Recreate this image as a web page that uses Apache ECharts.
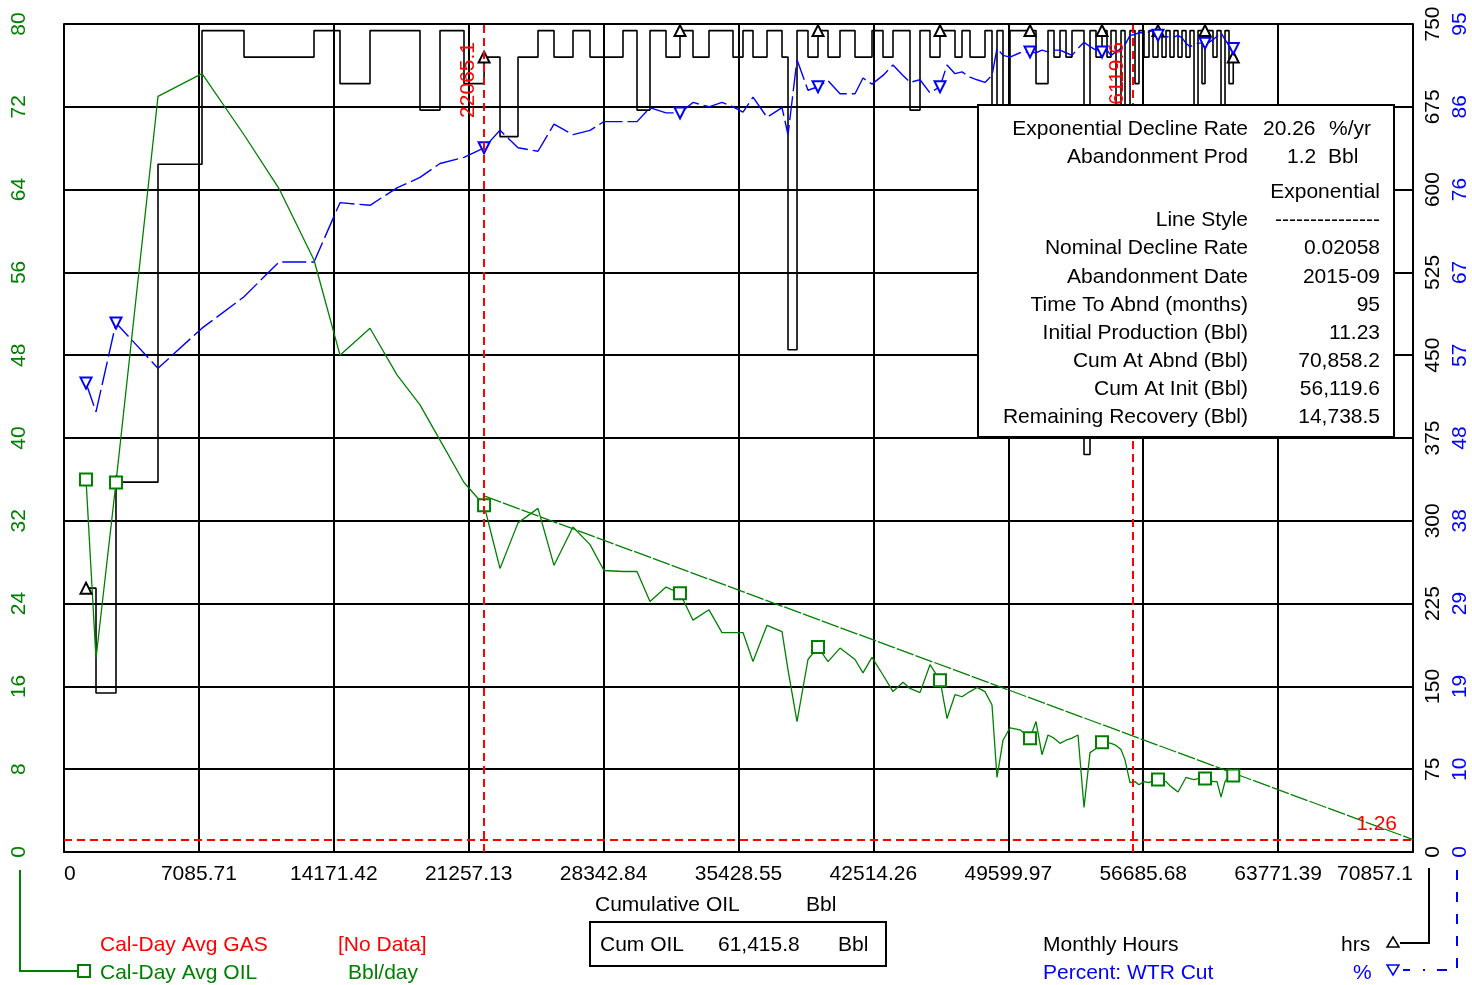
<!DOCTYPE html>
<html lang="en">
<head>
<meta charset="UTF-8">
<title>Cum OIL</title>
<style>
  html, body { margin: 0; padding: 0; background: #fff; }
  #chart { width: 1472px; height: 985px; }
</style>
</head>
<body>
<div id="chart"></div>
<script src="https://cdn.jsdelivr.net/npm/echarts@6.0.0/dist/echarts.min.js"></script>
<script>
// monthly points, x = cumulative oil (Bbl)
var cumOil = [1156, 1681, 2731, 4937, 7249, 9455, 11293, 13132, 14497, 16073,
  17491, 18699, 19750, 21010, 22065, 22901, 23847, 24897, 25738, 26736,
  27629, 28364, 29362, 30097, 30780, 31621, 32356, 33039, 33879, 34562,
  35140, 35665, 36190, 36926, 37714, 38029, 38502, 39079, 39605, 40130,
  40760, 41548, 41968, 42441, 43019, 43544, 44069, 44437, 44962, 45487,
  46013, 46380, 46801, 47168, 47589, 47956, 48376, 48744, 49007, 49322,
  49690, 50215, 50740, 51055, 51370, 51686, 52001, 52316, 52631, 52946,
  53261, 53577, 53892, 54207, 54522, 54785, 54995, 55257, 55520, 55730,
  55993, 56255, 56465, 56728, 56991, 57201, 57463, 57674, 57884, 58094,
  58304, 58514, 58724, 58934, 59145, 59355, 59565, 59775, 59932, 60142,
  60352, 60563, 60773, 60983, 61193, 61416];

// Cal-Day Avg OIL, Bbl/day
var oilRate = [36.0, 18.7, 35.7, 73.0, 75.2, 69.3, 64.1, 57.2, 48.0, 50.6,
  46.1, 43.2, 39.8, 35.7, 33.5, 27.4, 31.8, 33.2, 27.7, 31.4,
  29.7, 27.2, 27.1, 27.1, 24.2, 25.6, 25.0, 22.4, 23.4, 21.2,
  21.2, 21.2, 18.4, 21.9, 21.3, 17.6, 12.6, 18.6, 19.8, 18.4,
  19.7, 18.6, 17.3, 18.8, 17.1, 15.5, 16.4, 15.8, 15.4, 18.1,
  16.6, 12.9, 15.2, 15.0, 15.5, 15.9, 15.5, 14.2, 7.2, 10.8,
  12.0, 11.8, 11.0, 12.6, 9.4, 11.3, 11.0, 10.5, 10.8, 11.0,
  11.3, 4.3, 9.6, 10.0, 10.6, 10.6, 10.5, 10.3, 9.9, 8.9,
  6.7, 6.8, 6.5, 6.8, 6.7, 6.9, 7.0, 6.9, 6.8, 6.4,
  6.1, 5.8, 6.5, 7.2, 7.1, 7.0, 7.1, 7.1, 7.1, 7.0,
  6.8, 6.8, 5.3, 6.8, 7.3, 7.4];

// Monthly Hours, hrs
var monthHours = [239, 144, 335, 623, 744, 720, 720, 744, 696, 744,
  744, 672, 744, 696, 720, 648, 720, 744, 720, 744,
  720, 720, 744, 672, 744, 720, 744, 720, 744, 744,
  720, 744, 720, 744, 720, 455, 744, 720, 744, 720,
  744, 720, 720, 744, 720, 744, 744, 672, 744, 720,
  744, 744, 720, 744, 720, 720, 744, 400, 744, 400,
  744, 744, 744, 696, 696, 744, 720, 744, 720, 744,
  744, 360, 744, 720, 744, 720, 744, 672, 744, 420,
  744, 696, 744, 720, 744, 720, 744, 720, 744, 720,
  744, 720, 744, 720, 744, 420, 744, 696, 744, 744,
  720, 744, 420, 744, 696, 720];

// Percent: WTR Cut, %
var wtrCut = [53.8, 50.5, 60.7, 55.5, 60.1, 63.7, 67.7, 67.7, 74.5, 74.2,
  76.2, 77.4, 79.0, 79.7, 80.8, 82.8, 80.8, 80.4, 83.5, 82.3,
  82.8, 83.8, 83.8, 83.8, 85.4, 84.8, 84.8, 86.0, 85.5, 86.0,
  85.5, 84.9, 86.6, 84.3, 85.4, 82.3, 90.9, 87.4, 87.8, 88.5,
  87.0, 87.0, 88.8, 88.1, 89.1, 90.3, 89.1, 88.3, 88.6, 87.1,
  87.8, 90.3, 89.3, 89.5, 88.9, 88.6, 88.3, 89.1, 92.2, 91.4,
  91.2, 91.7, 91.8, 91.7, 92.0, 91.8, 92.0, 92.0, 91.7, 91.4,
  92.2, 92.9, 92.4, 92.0, 91.8, 92.0, 91.4, 91.8, 92.2, 92.6,
  93.7, 93.8, 94.0, 94.0, 94.1, 94.3, 93.7, 93.5, 93.5, 93.6,
  93.5, 93.7, 93.4, 92.8, 92.4, 92.6, 92.8, 92.8, 92.8, 92.9,
  93.2, 93.6, 94.0, 93.2, 92.6, 92.2];

// points that carry a symbol
var markIdx = [0, 2, 14, 26, 38, 50, 62, 74, 86, 98, 105];

// exponential decline fit
var declineCum = [22065.1, 70858.2];
var declineRate = [34.4, 1.2];
var fitCum = [22065.1, 56119.6];
var abandonRate = 1.2;
var abandonLabel = '1.26';

// axes
var xMax = 70857.1, xStep = 7085.71;
var rateMax = 80, rateStep = 8;
var hrsMax = 750, hrsStep = 75;
var cutMax = 95, cutStep = 9.5;

var statLabels = ['Exponential Decline Rate', 'Abandonment Prod', '', 'Line Style',
  'Nominal Decline Rate', 'Abandonment Date', 'Time To Abnd (months)',
  'Initial Production (Bbl)', 'Cum At Abnd (Bbl)', 'Cum At Init (Bbl)', 'Remaining Recovery (Bbl)'];
var statValues = ['', '', 'Exponential', '---------------', '0.02058', '2015-09', '95',
  '11.23', '70,858.2', '56,119.6', '14,738.5'];
var statRowY = [129, 157, 192, 220, 248, 277, 305, 333, 361, 389, 417];

var FONT = '"Liberation Sans", Arial, sans-serif';
var FS = 21;
var GREEN = '#008000', BLUE = '#0000ff', RED = '#ff0000';

function pairs(xs, ys) {
  return xs.map(function (x, i) { return [x, ys[i]]; });
}
function markSymbol(shape) {
  return function (val, p) { return markIdx.indexOf(p.dataIndex) >= 0 ? shape : 'none'; };
}
function txt(x, y, s, color, align) {
  return { type: 'text', z: 100, style: { x: x, y: y, text: s, fill: color || '#000',
    font: FS + 'px ' + FONT, align: align || 'left', verticalAlign: 'middle' } };
}

var graphics = [];
// stats box
graphics.push({ type: 'rect', z: 99, shape: { x: 978, y: 105, width: 416, height: 332 },
  style: { fill: '#fff', stroke: '#000', lineWidth: 2 } });
for (var i = 0; i < statLabels.length; i++) {
  if (statLabels[i]) graphics.push(txt(1248, statRowY[i], statLabels[i], '#000', 'right'));
  if (statValues[i]) graphics.push(txt(1380, statRowY[i], statValues[i], '#000', 'right'));
}
graphics.push(txt(1263, statRowY[0], '20.26'), txt(1329, statRowY[0], '%/yr'));
graphics.push(txt(1287, statRowY[1], '1.2'), txt(1328, statRowY[1], 'Bbl'));

// axis title + cum box
graphics.push(txt(595, 905, 'Cumulative OIL'), txt(806, 905, 'Bbl'));
graphics.push({ type: 'rect', z: 99, shape: { x: 590, y: 922, width: 296, height: 44 },
  style: { fill: '#fff', stroke: '#000', lineWidth: 2 } });
graphics.push(txt(600, 945, 'Cum OIL'), txt(718, 945, '61,415.8'), txt(838, 945, 'Bbl'));

// legend
graphics.push(txt(100, 945, 'Cal-Day Avg GAS', RED), txt(338, 945, '[No Data]', RED));
graphics.push(txt(100, 973, 'Cal-Day Avg OIL', GREEN), txt(348, 973, 'Bbl/day', GREEN));
graphics.push(txt(1043, 945, 'Monthly Hours'), txt(1341, 945, 'hrs'));
graphics.push(txt(1043, 973, 'Percent: WTR Cut', BLUE), txt(1353, 973, '%', BLUE));
graphics.push({ type: 'polyline', z: 100, shape: { points: [[20, 870], [20, 971], [77, 971]] },
  style: { stroke: GREEN, lineWidth: 2, fill: null } });
graphics.push({ type: 'rect', z: 100, shape: { x: 78, y: 965, width: 12, height: 12 },
  style: { stroke: GREEN, lineWidth: 2, fill: '#fff' } });
graphics.push({ type: 'polyline', z: 100, shape: { points: [[1429, 868], [1429, 943], [1400, 943]] },
  style: { stroke: '#000', lineWidth: 2, fill: null } });
graphics.push({ type: 'polygon', z: 100, shape: { points: [[1387, 947], [1399, 947], [1393, 937]] },
  style: { stroke: '#000', lineWidth: 1.5, fill: '#fff' } });
graphics.push({ type: 'polyline', z: 100, shape: { points: [[1457, 870], [1457, 970], [1423, 970]] },
  style: { stroke: BLUE, lineWidth: 2, fill: null, lineDash: [10, 12] } });
graphics.push({ type: 'polyline', z: 100, shape: { points: [[1403, 970], [1410, 970]] },
  style: { stroke: BLUE, lineWidth: 2, fill: null } });
graphics.push({ type: 'polygon', z: 100, shape: { points: [[1387, 965], [1399, 965], [1393, 975]] },
  style: { stroke: BLUE, lineWidth: 1.5, fill: '#fff' } });

var chart = echarts.init(document.getElementById('chart'));
var gridLine = { show: true, lineStyle: { color: '#000', width: 2 } };
var labelBase = { fontFamily: FONT, fontSize: FS };

var option = {
  animation: false,
  backgroundColor: '#fff',
  textStyle: { fontFamily: FONT },
  grid: { left: 64, right: 59, top: 24, bottom: 133, outerBoundsMode: 'none' },
  xAxis: {
    type: 'value', min: 0, max: xMax, interval: xStep,
    axisLine: gridLine, axisTick: { show: false }, splitLine: gridLine,
    axisLabel: Object.assign({ color: '#000', margin: 12, alignMinLabel: 'left', alignMaxLabel: 'right',
      formatter: function (v) { return String(parseFloat(v.toFixed(2))); } }, labelBase)
  },
  yAxis: [
    { type: 'value', position: 'left', min: 0, max: rateMax, interval: rateStep,
      axisLine: gridLine, axisTick: { show: false }, splitLine: gridLine,
      axisLabel: Object.assign({ color: GREEN, rotate: 90, margin: 34 }, labelBase) },
    { type: 'value', position: 'right', min: 0, max: hrsMax, interval: hrsStep,
      axisLine: gridLine, axisTick: { show: false }, splitLine: { show: false },
      axisLabel: Object.assign({ color: '#000', rotate: 90, margin: 10 }, labelBase) },
    { type: 'value', position: 'right', offset: 27, min: 0, max: cutMax, interval: cutStep,
      axisLine: { show: false }, axisTick: { show: false }, splitLine: { show: false },
      axisLabel: Object.assign({ color: BLUE, rotate: 90, margin: 10,
        formatter: function (v) { return String(Math.round(v)); } }, labelBase) }
  ],
  series: [
    { name: 'Monthly Hours', type: 'line', step: 'end', yAxisIndex: 1,
      data: pairs(cumOil, monthHours), symbol: markSymbol('emptyTriangle'), symbolSize: 11,
      lineStyle: { color: '#000', width: 1.6 }, itemStyle: { color: '#000', borderWidth: 1.5 } },
    { name: 'Percent: WTR Cut', type: 'line', yAxisIndex: 2,
      data: pairs(cumOil, wtrCut), symbol: markSymbol('emptyTriangle'), symbolRotate: 180, symbolSize: 11,
      lineStyle: { color: BLUE, width: 1.4, type: [24, 5] }, itemStyle: { color: BLUE, borderWidth: 1.5 } },
    { name: 'Cal-Day Avg OIL', type: 'line', yAxisIndex: 0,
      data: pairs(cumOil, oilRate), symbol: markSymbol('emptyRect'), symbolSize: 12,
      lineStyle: { color: GREEN, width: 1.3 }, itemStyle: { color: GREEN, borderWidth: 1.5 } },
    { name: 'Decline', type: 'line', yAxisIndex: 0,
      data: pairs(declineCum, declineRate), symbol: 'none',
      lineStyle: { color: GREEN, width: 1.3, type: [18, 2] },
      markLine: {
        silent: true, symbol: ['none', 'none'],
        lineStyle: { color: RED, type: [8, 5], width: 2 },
        label: Object.assign({ color: RED, position: 'insideEndTop', distance: [18, 5] }, labelBase),
        data: [
          { xAxis: fitCum[0], label: { formatter: String(fitCum[0]) } },
          { xAxis: fitCum[1], label: { formatter: String(fitCum[1]) } },
          { yAxis: abandonRate, label: { formatter: abandonLabel, distance: [16, 5] } }
        ]
      } }
  ],
  graphic: graphics
};
chart.setOption(option);
</script>
</body>
</html>
